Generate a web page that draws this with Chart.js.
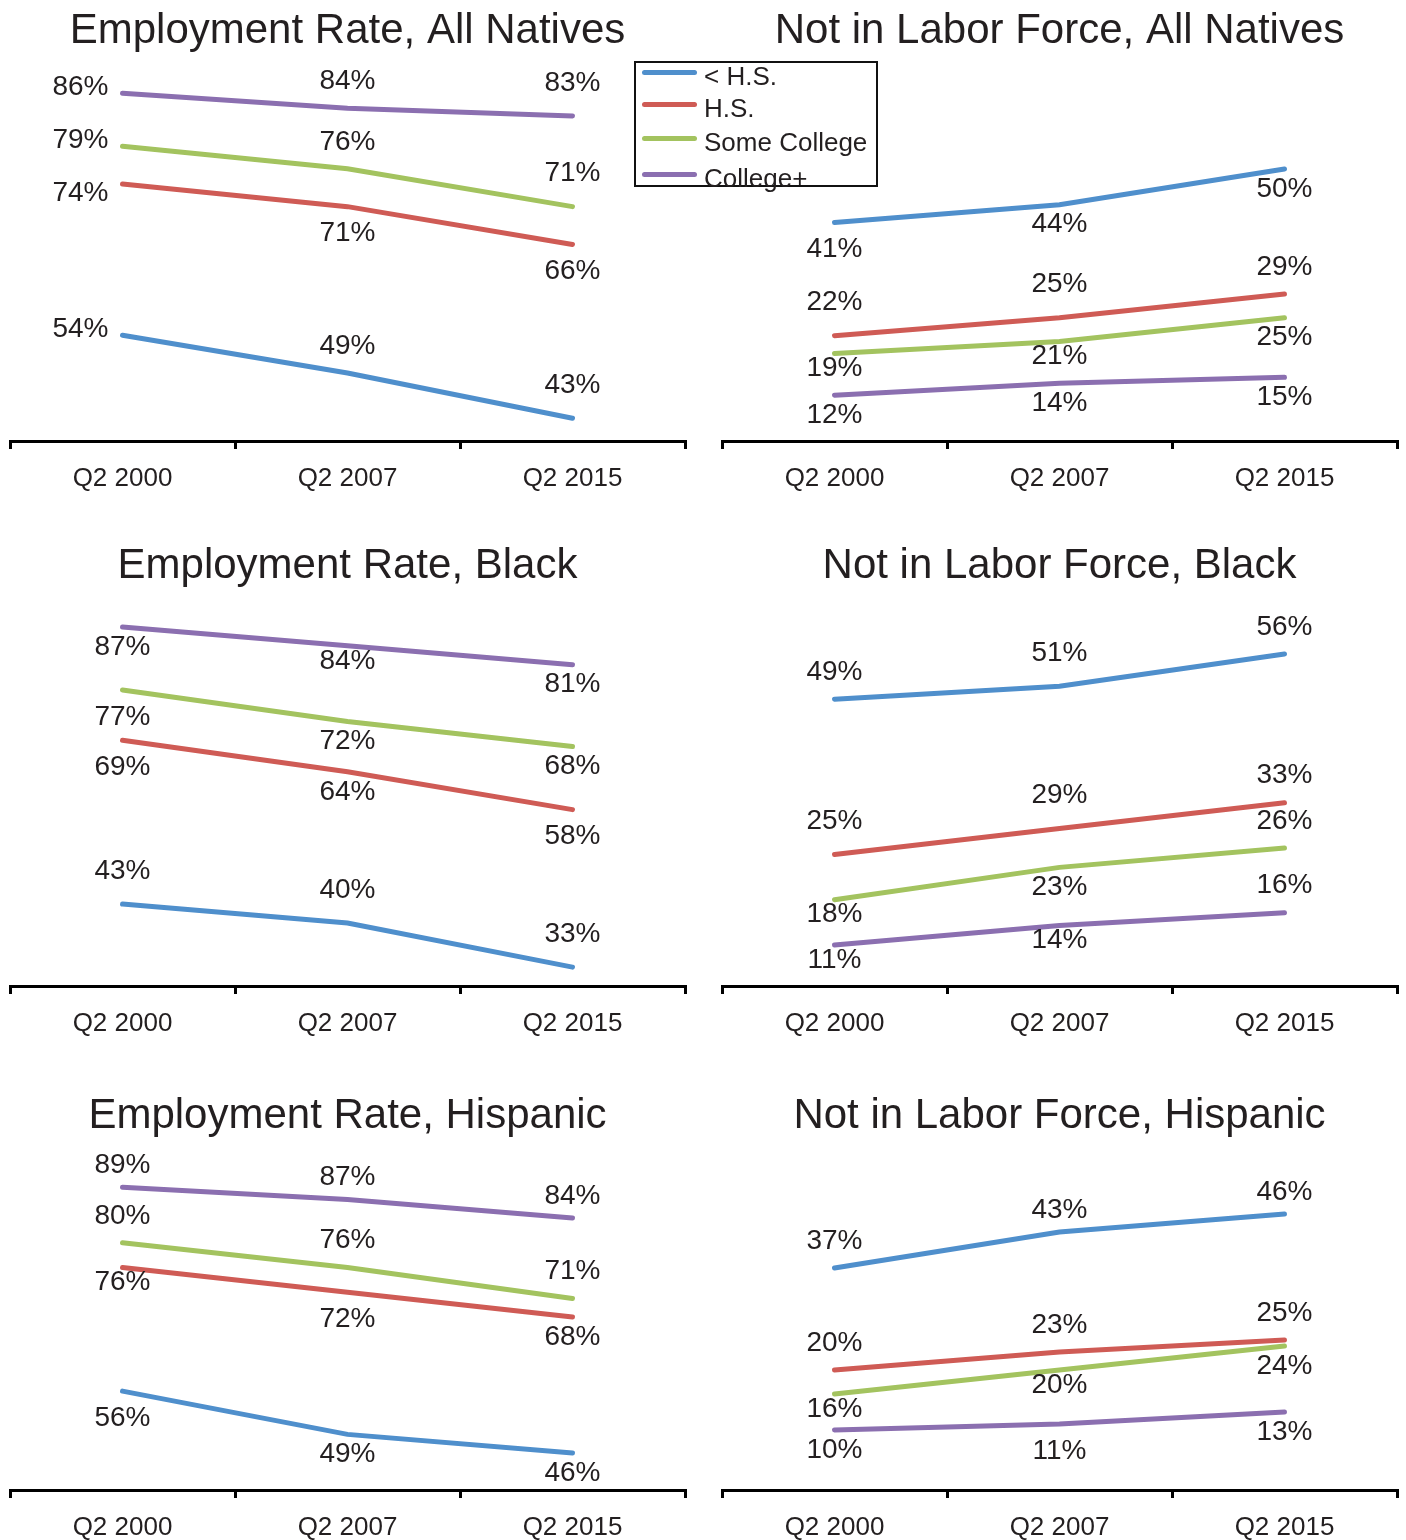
<!DOCTYPE html>
<html>
<head>
<meta charset="utf-8">
<script src="https://cdn.jsdelivr.net/npm/chart.js@4.4.1/dist/chart.umd.min.js"></script>
<style>
  body { margin: 0; background: #fff; width: 1406px; height: 1540px; position: relative; overflow: hidden;
         font-family: "Liberation Sans", Arial, sans-serif; }
  .panel { position: absolute; }
  #legend { position: absolute; left: 634px; top: 61px; width: 240px; height: 122px;
            border: 2px solid #111; background: #fff; z-index: 5; }
  .row { position: absolute; left: 0; height: 32px; width: 240px; }
  .sw { position: absolute; left: 6px; top: 13px; width: 55px; height: 5px; border-radius: 3px; }
  .lb { position: absolute; left: 68px; top: 3px; line-height: 32px; font-size: 26px; color: #231f20; white-space: nowrap; }
</style>
</head>
<body>
<div id="legend"></div>

<script>
// --- data ---
const quarters = ["Q2 2000", "Q2 2007", "Q2 2015"];
const seriesNames = ["< H.S.", "H.S.", "Some College", "College+"];
const seriesColors = ["#4f8fcc", "#cf5b55", "#a3c35f", "#8b6fb0"];

// each list: < H.S., H.S., Some College, College+
const empNatives   = [[54, 49, 43], [74, 71, 66], [79, 76, 71], [86, 84, 83]];
const nilfNatives  = [[41, 44, 50], [22, 25, 29], [19, 21, 25], [12, 14, 15]];
const empBlack     = [[43, 40, 33], [69, 64, 58], [77, 72, 68], [87, 84, 81]];
const nilfBlack    = [[49, 51, 56], [25, 29, 33], [18, 23, 26], [11, 14, 16]];
const empHispanic  = [[56, 49, 46], [76, 72, 68], [80, 76, 71], [89, 87, 84]];
const nilfHispanic = [[37, 43, 46], [20, 23, 25], [16, 20, 24], [10, 11, 13]];

// where each value label sits (see labelDy): a/A/c above, b/B/s below, l/L left
const empNativesPlace   = [["l","a","A"], ["L","B","B"], ["l","a","A"], ["l","a","A"]];
const nilfNativesPlace  = [["B","b","b"], ["A","A","a"], ["s","s","b"], ["b","b","b"]];
const empBlackPlace     = [["A","A","A"], ["B","b","B"], ["B","b","b"], ["b","s","b"]];
const nilfBlackPlace    = [["a","A","a"], ["A","A","a"], ["s","b","a"], ["s","s","a"]];
const empHispanicPlace  = [["B","b","b"], ["s","B","b"], ["a","a","a"], ["c","c","c"]];
const nilfHispanicPlace = [["a","c","c"], ["a","a","a"], ["s","s","b"], ["b","B","b"]];

const labelDy = { a: -27, A: -33, c: -22, b: 20, B: 27, s: 15, l: -6, L: 9 };

const FONT = '"Liberation Sans", Arial, sans-serif';
const INK = "#231f20";

// --- legend ---
const legendEl = document.getElementById("legend");
const legendTops = [-6, 26, 60, 96];
seriesNames.forEach((n, i) => {
  const r = document.createElement("div");
  r.className = "row";
  r.style.top = legendTops[i] + "px";
  r.innerHTML = `<div class="sw" style="background:${seriesColors[i]}"></div><div class="lb"></div>`;
  r.querySelector(".lb").textContent = n;
  legendEl.appendChild(r);
});

// --- value labels plugin ---
const pointLabels = {
  id: "pointLabels",
  afterDatasetsDraw(chart) {
    const place = chart.options.plugins.pointLabels.place;
    const ctx = chart.ctx;
    ctx.save();
    ctx.font = "28px " + FONT;
    ctx.fillStyle = INK;
    ctx.textBaseline = "middle";
    chart.data.datasets.forEach((ds, di) => {
      const meta = chart.getDatasetMeta(di);
      meta.data.forEach((pt, i) => {
        const p = place[di][i];
        const txt = ds.data[i] + "%";
        if (p === "l" || p === "L") {
          ctx.textAlign = "right";
          ctx.fillText(txt, pt.x - 14, pt.y + labelDy[p]);
        } else {
          ctx.textAlign = "center";
          ctx.fillText(txt, pt.x, pt.y + labelDy[p]);
        }
      });
    });
    ctx.restore();
  }
};

// --- panels ---
function makePanel(o) {
  const div = document.createElement("div");
  div.className = "panel";
  div.style.left = o.left + "px";
  div.style.top = o.top + "px";
  div.style.width = "703px";
  div.style.height = o.height + "px";
  const cv = document.createElement("canvas");
  div.appendChild(cv);
  document.body.appendChild(div);

  new Chart(cv, {
    type: "line",
    data: {
      labels: quarters,
      datasets: o.values.map((v, i) => ({
        label: seriesNames[i], data: v, borderColor: seriesColors[i],
        borderWidth: 5, borderCapStyle: "round", pointRadius: 0, fill: false, tension: 0
      }))
    },
    options: {
      responsive: true, maintainAspectRatio: false, animation: false,
      layout: { padding: { left: o.padL, right: o.padR, top: 0, bottom: 0 } },
      plugins: {
        legend: { display: false },
        tooltip: { enabled: false },
        title: { display: true, text: o.title, color: INK, fullSize: false,
                 font: { size: 42, family: FONT, weight: "normal" },
                 padding: { top: 6, bottom: o.titleGap } },
        pointLabels: { place: o.place }
      },
      scales: {
        x: {
          offset: true,
          grid: { offset: true, drawOnChartArea: false, drawTicks: true, tickLength: 8, color: "#000", lineWidth: 3 },
          border: { display: true, color: "#000", width: 3 },
          ticks: { color: INK, font: { size: 26, family: FONT }, padding: 14, maxRotation: 0 },
          afterFit: s => { s.height = 50; }
        },
        y: { display: false, min: o.min, max: o.max }
      }
    },
    plugins: [pointLabels]
  });
}

makePanel({ left: 0,   top: 0,    height: 491, padL: 10, padR: 18, titleGap: 6.6,
            title: "Employment Rate, All Natives", values: empNatives, place: empNativesPlace, min: 40, max: 90 });
makePanel({ left: 703, top: 0,    height: 491, padL: 19, padR: 9, titleGap: 6.6,
            title: "Not in Labor Force, All Natives", values: nilfNatives, place: nilfNativesPlace, min: 4.3, max: 67.8 });
makePanel({ left: 0,   top: 535,  height: 501, padL: 10, padR: 18, titleGap: 16.6,
            title: "Employment Rate, Black", values: empBlack, place: empBlackPlace, min: 30, max: 90 });
makePanel({ left: 703, top: 535,  height: 501, padL: 19, padR: 9, titleGap: 16.6,
            title: "Not in Labor Force, Black", values: nilfBlack, place: nilfBlackPlace, min: 4.66, max: 63.1 });
makePanel({ left: 0,   top: 1085, height: 455, padL: 10, padR: 18, titleGap: 39.6,
            title: "Employment Rate, Hispanic", values: empHispanic, place: empHispanicPlace, min: 40, max: 90 });
makePanel({ left: 703, top: 1085, height: 455, padL: 19, padR: 9, titleGap: 39.6,
            title: "Not in Labor Force, Hispanic", values: nilfHispanic, place: nilfHispanicPlace, min: 0, max: 51.5 });
</script>
</body>
</html>
